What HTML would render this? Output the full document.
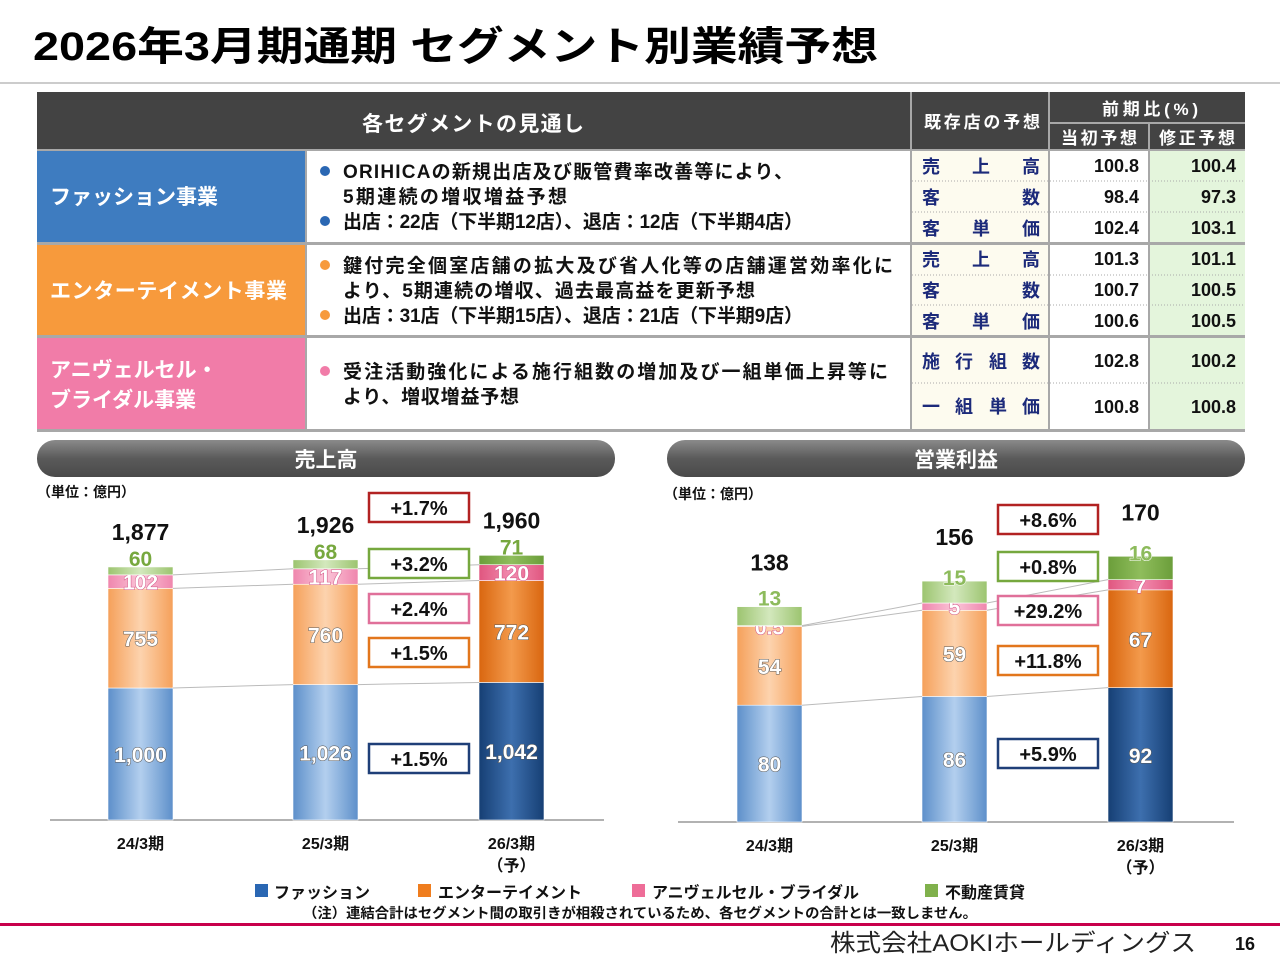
<!DOCTYPE html>
<html><head><meta charset="utf-8">
<style>
html,body{margin:0;padding:0;background:#fff;}
svg{display:block;font-family:"Liberation Sans","Noto Sans CJK JP",sans-serif;}
.b{font-weight:bold;}
</style></head>
<body>
<svg id="page" width="1280" height="960" viewBox="0 0 1280 960">
<defs>
 <linearGradient id="gBlueL" x1="0" x2="1"><stop offset="0" stop-color="#5d8fca"/><stop offset=".5" stop-color="#b3cfee"/><stop offset="1" stop-color="#5d8fca"/></linearGradient>
 <linearGradient id="gBlueD" x1="0" x2="1"><stop offset="0" stop-color="#163f74"/><stop offset=".5" stop-color="#3d6fae"/><stop offset="1" stop-color="#163f74"/></linearGradient>
 <linearGradient id="gOrL" x1="0" x2="1"><stop offset="0" stop-color="#f5a05a"/><stop offset=".5" stop-color="#fdd3ae"/><stop offset="1" stop-color="#f5a05a"/></linearGradient>
 <linearGradient id="gOrD" x1="0" x2="1"><stop offset="0" stop-color="#d9660f"/><stop offset=".5" stop-color="#f39a4c"/><stop offset="1" stop-color="#d9660f"/></linearGradient>
 <linearGradient id="gPkL" x1="0" x2="1"><stop offset="0" stop-color="#ef86ad"/><stop offset=".5" stop-color="#fbc5d8"/><stop offset="1" stop-color="#ef86ad"/></linearGradient>
 <linearGradient id="gPkD" x1="0" x2="1"><stop offset="0" stop-color="#e0567f"/><stop offset=".5" stop-color="#f28cb0"/><stop offset="1" stop-color="#e0567f"/></linearGradient>
 <linearGradient id="gGrL" x1="0" x2="1"><stop offset="0" stop-color="#9cc46f"/><stop offset=".5" stop-color="#d3e8bd"/><stop offset="1" stop-color="#9cc46f"/></linearGradient>
 <linearGradient id="gGrD" x1="0" x2="1"><stop offset="0" stop-color="#6b9e3a"/><stop offset=".5" stop-color="#8fbd5c"/><stop offset="1" stop-color="#6b9e3a"/></linearGradient>
 <linearGradient id="gPill" x1="0" y1="0" x2="0" y2="1"><stop offset="0" stop-color="#8a8a8a"/><stop offset=".5" stop-color="#5a5a5a"/><stop offset="1" stop-color="#4a4a4a"/></linearGradient>
</defs>

<!-- Title -->
<text x="33" y="60" font-size="40" class="b" fill="#000" textLength="845" lengthAdjust="spacingAndGlyphs">2026年3月期通期 セグメント別業績予想</text>
<line x1="0" y1="83" x2="1280" y2="83" stroke="#bbb" stroke-width="1.5"/>

<!-- Table -->
<g>
 <rect x="37" y="92" width="1208" height="340" fill="#a8a8a8"/>
 <rect x="37" y="92" width="873" height="57" fill="#434343"/>
 <text x="473" y="131" text-anchor="middle" font-size="21" class="b" fill="#fff" textLength="222">各セグメントの見通し</text>
 <rect x="912" y="92" width="136" height="57" fill="#434343"/>
 <text x="982" y="128" text-anchor="middle" font-size="17" class="b" fill="#fff" textLength="116">既存店の予想</text>
 <rect x="1050" y="92" width="195" height="30" fill="#434343"/>
 <text x="1150" y="115" text-anchor="middle" font-size="17" class="b" fill="#fff" textLength="96">前期比(%)</text>
 <rect x="1050" y="124" width="98" height="25" fill="#434343"/>
 <rect x="1150" y="124" width="95" height="25" fill="#434343"/>
 <text x="1099" y="144" text-anchor="middle" font-size="17" class="b" fill="#fff" textLength="76">当初予想</text>
 <text x="1197" y="144" text-anchor="middle" font-size="17" class="b" fill="#fff" textLength="76">修正予想</text>

 <rect x="37" y="151" width="268" height="91" fill="#3e7cc0"/>
 <rect x="37" y="245" width="268" height="90" fill="#f79a3c"/>
 <rect x="37" y="338" width="268" height="91" fill="#f17ca8"/>
 <rect x="307" y="151" width="603" height="91" fill="#fff"/>
 <rect x="307" y="245" width="603" height="90" fill="#fff"/>
 <rect x="307" y="338" width="603" height="91" fill="#fff"/>
 <text x="50" y="204" font-size="21" class="b" fill="#fff">ファッション事業</text>
 <text x="50" y="298" font-size="21" class="b" fill="#fff" textLength="237">エンターテイメント事業</text>
 <text x="50" y="377" font-size="21" class="b" fill="#fff">アニヴェルセル・</text>
 <text x="50" y="407" font-size="21" class="b" fill="#fff">ブライダル事業</text>

 <g font-size="19" class="b" fill="#111" lengthAdjust="spacingAndGlyphs">
  <circle cx="325" cy="171" r="5" fill="#2a67b3"/>
  <text x="343" y="178" textLength="450">ORIHICAの新規出店及び販管費率改善等により、</text>
  <text x="343" y="203" textLength="224">5期連続の増収増益予想</text>
  <circle cx="325" cy="221" r="5" fill="#2a67b3"/>
  <text x="343" y="228" textLength="460">出店：22店（下半期12店）、退店：12店（下半期4店）</text>
  <circle cx="325" cy="265" r="5" fill="#f79a3c"/>
  <text x="343" y="272" textLength="550">鍵付完全個室店舗の拡大及び省人化等の店舗運営効率化に</text>
  <text x="343" y="297" textLength="412">より、5期連続の増収、過去最高益を更新予想</text>
  <circle cx="325" cy="315" r="5" fill="#f79a3c"/>
  <text x="343" y="322" textLength="460">出店：31店（下半期15店）、退店：21店（下半期9店）</text>
  <circle cx="325" cy="371" r="5" fill="#f17ca8"/>
  <text x="343" y="378" textLength="545">受注活動強化による施行組数の増加及び一組単価上昇等に</text>
  <text x="343" y="403" textLength="176">より、増収増益予想</text>
 </g>

 <rect x="912" y="151" width="136" height="91" fill="#fdfbef"/>
 <rect x="912" y="245" width="136" height="90" fill="#fdfbef"/>
 <rect x="912" y="338" width="136" height="91" fill="#fdfbef"/>
 <rect x="1050" y="151" width="98" height="91" fill="#fff"/>
 <rect x="1050" y="245" width="98" height="90" fill="#fff"/>
 <rect x="1050" y="338" width="98" height="91" fill="#fff"/>
 <rect x="1150" y="151" width="95" height="91" fill="#e4f5dc"/>
 <rect x="1150" y="245" width="95" height="90" fill="#e4f5dc"/>
 <rect x="1150" y="338" width="95" height="91" fill="#e4f5dc"/>
 <g stroke="#aaa" stroke-dasharray="1,2" stroke-width="1">
  <line x1="912" y1="181" x2="1245" y2="181"/><line x1="912" y1="212" x2="1245" y2="212"/>
  <line x1="912" y1="275" x2="1245" y2="275"/><line x1="912" y1="305" x2="1245" y2="305"/>
  <line x1="912" y1="383" x2="1245" y2="383"/>
 </g>
 <g font-size="18" class="b" fill="#1c2a7a">
  <text x="922" y="173">売</text><text x="972" y="173">上</text><text x="1022" y="173">高</text>
  <text x="922" y="204">客</text><text x="1022" y="204">数</text>
  <text x="922" y="235">客</text><text x="972" y="235">単</text><text x="1022" y="235">価</text>
  <text x="922" y="266">売</text><text x="972" y="266">上</text><text x="1022" y="266">高</text>
  <text x="922" y="297">客</text><text x="1022" y="297">数</text>
  <text x="922" y="328">客</text><text x="972" y="328">単</text><text x="1022" y="328">価</text>
  <text x="922" y="368">施</text><text x="955" y="368">行</text><text x="989" y="368">組</text><text x="1022" y="368">数</text>
  <text x="922" y="413">一</text><text x="955" y="413">組</text><text x="989" y="413">単</text><text x="1022" y="413">価</text>
 </g>
 <g font-size="18" class="b" fill="#111" text-anchor="end">
  <text x="1139" y="172">100.8</text><text x="1236" y="172">100.4</text>
  <text x="1139" y="203">98.4</text><text x="1236" y="203">97.3</text>
  <text x="1139" y="234">102.4</text><text x="1236" y="234">103.1</text>
  <text x="1139" y="265">101.3</text><text x="1236" y="265">101.1</text>
  <text x="1139" y="296">100.7</text><text x="1236" y="296">100.5</text>
  <text x="1139" y="327">100.6</text><text x="1236" y="327">100.5</text>
  <text x="1139" y="367">102.8</text><text x="1236" y="367">100.2</text>
  <text x="1139" y="413">100.8</text><text x="1236" y="413">100.8</text>
 </g>
</g>

<rect x="37" y="440" width="578" height="37" rx="18" fill="url(#gPill)"/>
<text x="326" y="467" text-anchor="middle" font-size="21" class="b" fill="#fff">売上高</text>
<rect x="667" y="440" width="578" height="37" rx="18" fill="url(#gPill)"/>
<text x="956" y="467" text-anchor="middle" font-size="21" class="b" fill="#fff">営業利益</text>
<text x="37" y="497" font-size="14" class="b" fill="#111">（単位：億円）</text>
<text x="664" y="499" font-size="14" class="b" fill="#111">（単位：億円）</text>

<g id="chartL"></g>
<g id="chartR"></g>

<g font-size="16" class="b" fill="#111">
 <g><rect x="255" y="884" width="13" height="13" fill="#2a67b3"/><text x="274" y="898">ファッション</text></g>
 <g><rect x="418" y="884" width="13" height="13" fill="#ef7d1e"/><text x="438" y="898">エンターテイメント</text></g>
 <g><rect x="632" y="884" width="13" height="13" fill="#ee6d98"/><text x="652" y="898">アニヴェルセル・ブライダル</text></g>
 <g><rect x="925" y="884" width="13" height="13" fill="#80b14c"/><text x="945" y="898">不動産賃貸</text></g>
</g>
<text x="303" y="918" font-size="14" class="b" fill="#111" textLength="674" lengthAdjust="spacingAndGlyphs">（注）連結合計はセグメント間の取引きが相殺されているため、各セグメントの合計とは一致しません。</text>
<rect x="0" y="923" width="1280" height="3" fill="#c8004b"/>
<text x="830" y="951" font-size="24" fill="#222" textLength="366" lengthAdjust="spacingAndGlyphs">株式会社AOKIホールディングス</text>
<text x="1255" y="950" text-anchor="end" font-size="18" class="b" fill="#111">16</text>
</svg>

<script>
// Sales chart data
const categories = ["24/3期", "25/3期", "26/3期"];
const salesFashion = [1000, 1026, 1042];
const salesEnt = [755, 760, 772];
const salesAnn = [102, 117, 120];
const salesRE = [60, 68, 71];
const salesTotal = ["1,877", "1,926", "1,960"];
const salesChangeLabels = ["+1.7%", "+3.2%", "+2.4%", "+1.5%", "+1.5%"];
// Operating profit chart data
const profitFashion = [80, 86, 92];
const profitEnt = [54, 59, 67];
const profitAnn = [0.5, 5, 7];
const profitRE = [13, 15, 16];
const profitTotal = ["138", "156", "170"];
const profitChangeLabels = ["+8.6%", "+0.8%", "+29.2%", "+11.8%", "+5.9%"];

const NS = "http://www.w3.org/2000/svg";
function mk(tag, attrs, parent, txt){
  const e = document.createElementNS(NS, tag);
  for (const k in attrs) e.setAttribute(k, attrs[k]);
  if (txt !== undefined) e.textContent = txt;
  parent.appendChild(e);
  return e;
}
function fmt(v){ return v >= 1000 ? v.toLocaleString("en-US") : String(v); }

function drawChart(g, cfg){
  const yS = v => cfg.base - v * cfg.k;
  const bw = 65;
  const ax = mk("line", {x1: cfg.axX0, x2: cfg.axX1, y1: cfg.base, y2: cfg.base, stroke: "#999", "stroke-width": 1.5}, g);
  
  
  const tops = [];
  categories.forEach((c, i) => {
    const x = cfg.xs[i];
    const dark = i === 2;
    const segs = [
      {v: cfg.f[i], fill: dark ? "url(#gBlueD)" : "url(#gBlueL)", name: "fashion"},
      {v: cfg.e[i], fill: dark ? "url(#gOrD)" : "url(#gOrL)", name: "entertainment"},
      {v: cfg.a[i], fill: dark ? "url(#gPkD)" : "url(#gPkL)", name: "anniversary"},
      {v: cfg.r[i], fill: dark ? "url(#gGrD)" : "url(#gGrL)", name: "real-estate"}
    ];
    let cum = 0; const t = [];
    segs.forEach((s, j) => {
      const y0 = yS(cum), y1 = yS(cum + s.v);
      const r = mk("rect", {x: x, y: y1, width: bw, height: Math.max(y0 - y1, 0.5), fill: s.fill, stroke: "#fff", "stroke-width": 0.6}, g);
      
      
      cum += s.v; t.push(y1);
      const cx = x + bw / 2;
      let ly, fill, stroke;
      if (j === 3) {
        if (cfg.reInside) { ly = y1 + 4; fill = "#8dbb5c"; stroke = "#fff"; if (i === 0) ly = y1 - 1; }
        else { ly = y1 - 1; fill = "#77a83e"; stroke = "#fff"; }
      } else if (j === 2) {
        ly = (y0 + y1) / 2 + 8; fill = "#fff"; stroke = "#d05080";
        if (cfg.reInside && i === 0) ly = y1 + 9;
      } else { ly = (y0 + y1) / 2 + 8; fill = "#fff"; stroke = "#555"; }
      const lab = mk("text", {x: cx, y: ly, "text-anchor": "middle", "font-size": 21, "font-weight": "bold", fill: fill, stroke: stroke, "stroke-width": 1, "paint-order": "stroke"}, g, fmt(s.v));
      
      
    });
    tops.push(t);
    const tot = mk("text", {x: x + bw / 2, y: yS(cum) - cfg.totGap, "text-anchor": "middle", "font-size": 23, "font-weight": "bold", fill: "#111"}, g, cfg.tot[i]);
    
    
    const cl = mk("text", {x: x + bw / 2, y: cfg.base + 29, "text-anchor": "middle", "font-size": 16, "font-weight": "bold", fill: "#111"}, g, c);
    
    
    if (i === 2) {
      const sub = mk("text", {x: x + bw / 2, y: cfg.base + 51, "text-anchor": "middle", "font-size": 16, "font-weight": "bold", fill: "#111"}, g, "（予）");
      
      
    }
  });
  for (let i = 0; i < 2; i++) {
    for (let j = 0; j < 3; j++) {
      const l = mk("line", {x1: cfg.xs[i] + bw, y1: tops[i][j], x2: cfg.xs[i + 1], y2: tops[i + 1][j], stroke: "#bbb", "stroke-width": 1}, g);
      
      
    }
  }
  const colors = ["#b22222", "#76a83e", "#e0709a", "#e2761c", "#1f3f78"];
  cfg.chg.forEach((s, k) => {
    const by = cfg.boxY[k];
    const b = mk("rect", {x: cfg.boxX, y: by, width: 100, height: 29, fill: "#fff", stroke: colors[k], "stroke-width": 2.5}, g);
    
    
    const bt = mk("text", {x: cfg.boxX + 50, y: by + 22, "text-anchor": "middle", "font-size": 20, "font-weight": "bold", fill: "#111"}, g, s);
    
    
  });
}

drawChart(document.getElementById("chartL"), {
  base: 820, k: 0.132, xs: [108, 293, 479], axX0: 50, axX1: 604,
  f: salesFashion, e: salesEnt, a: salesAnn, r: salesRE, tot: salesTotal,
  chg: salesChangeLabels, boxX: 369, boxY: [493, 549, 594, 638, 744],
  totGap: 27, reInside: false
});
drawChart(document.getElementById("chartR"), {
  base: 822, k: 1.46, xs: [737, 922, 1108], axX0: 678, axX1: 1234,
  f: profitFashion, e: profitEnt, a: profitAnn, r: profitRE, tot: profitTotal,
  chg: profitChangeLabels, boxX: 998, boxY: [505, 552, 596, 646, 739],
  totGap: 36, reInside: true
});
</script>
</body></html>
